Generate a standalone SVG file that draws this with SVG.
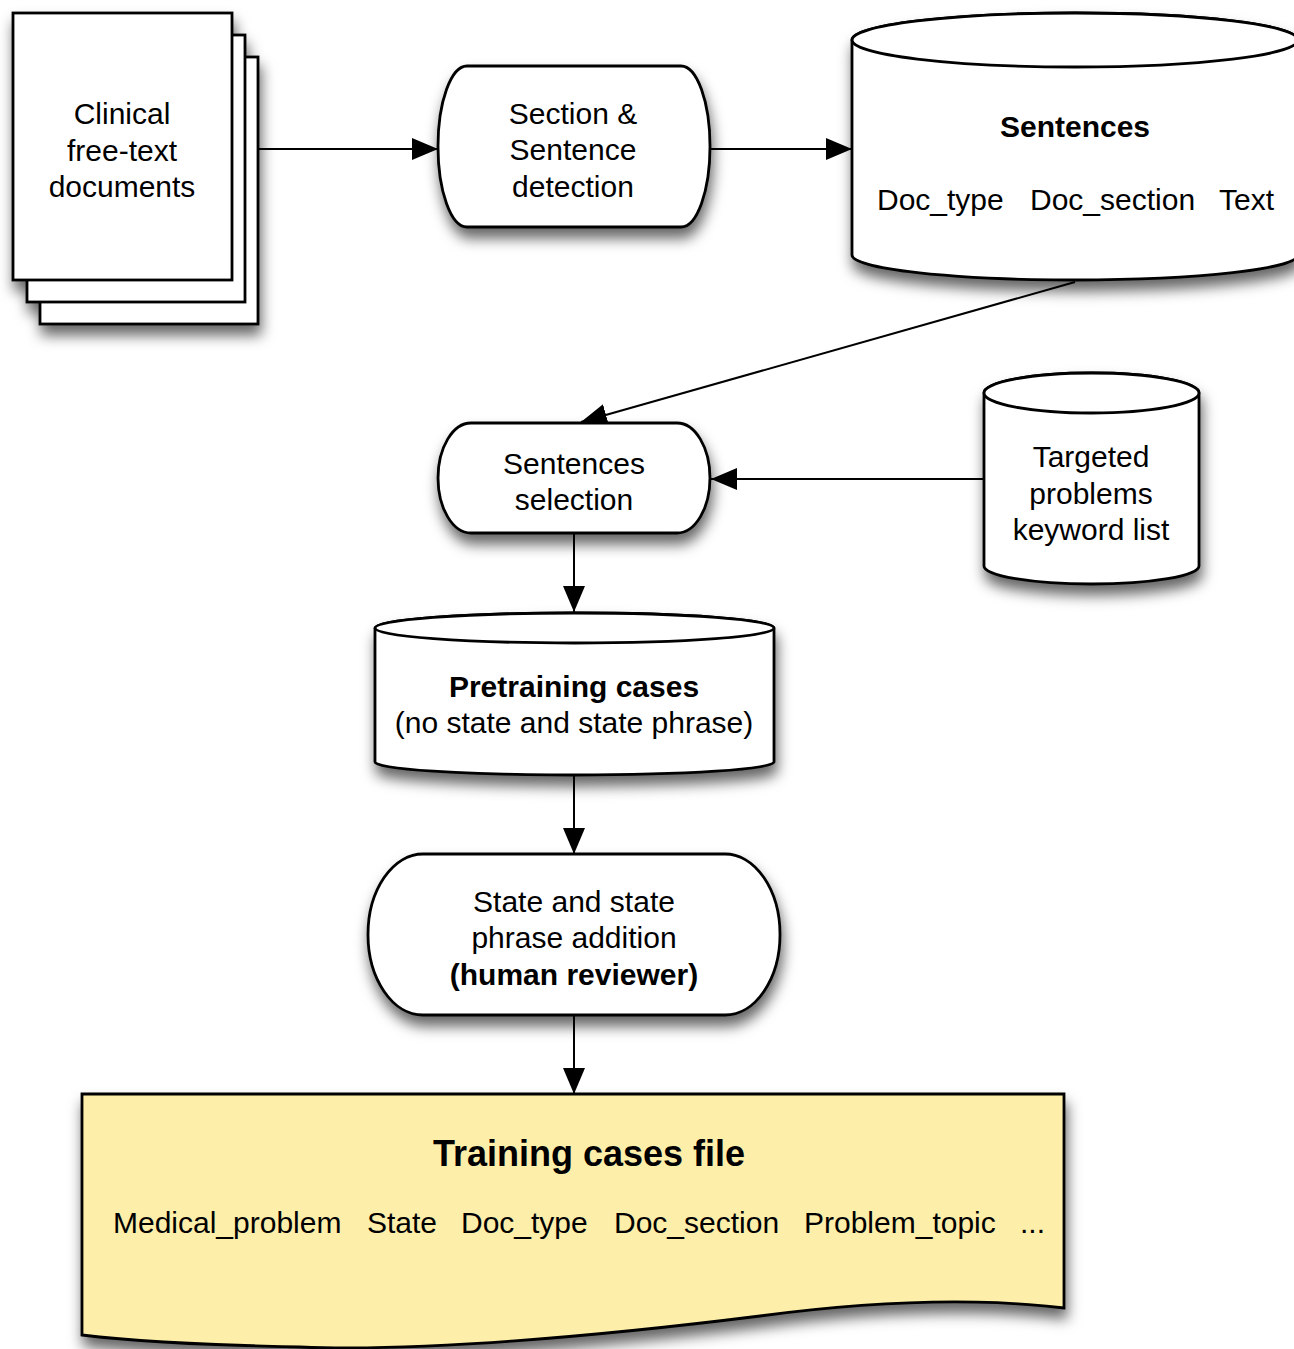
<svg xmlns="http://www.w3.org/2000/svg" width="1294" height="1349" viewBox="0 0 1294 1349">
<defs>
<filter id="sh" x="-10%" y="-10%" width="125%" height="140%">
<feDropShadow dx="2" dy="10" stdDeviation="7" flood-color="#000" flood-opacity="0.6"/>
</filter>
<marker id="ah" markerUnits="userSpaceOnUse" markerWidth="28" markerHeight="24" refX="26" refY="11" orient="auto">
<path d="M0,0 L26,11 L0,22 Z" fill="#000"/>
</marker>
</defs>
<style>
.shape{fill:#fff;stroke:#000;stroke-width:2.8}
.t{font-family:"Liberation Sans",Arial,Helvetica,sans-serif;font-size:30px;fill:#000}
.c{text-anchor:middle}
.b{font-weight:bold}
.edge{stroke:#000;stroke-width:2;fill:none;marker-end:url(#ah)}
</style>
<rect width="1294" height="1349" fill="#fff"/>

<g id="connectors">
<line class="edge" x1="258" y1="149" x2="438" y2="149"/>
<line class="edge" x1="710" y1="149" x2="852" y2="149"/>
<line class="edge" x1="1075" y1="282" x2="581" y2="422"/>
<line class="edge" x1="984" y1="479" x2="711" y2="479"/>
<line class="edge" x1="574" y1="533" x2="574" y2="612"/>
<line class="edge" x1="574" y1="776" x2="574" y2="854"/>
<line class="edge" x1="574" y1="1016" x2="574" y2="1094"/>
</g>

<g id="clinical-docs">
<g filter="url(#sh)">
<rect class="shape" x="40" y="57" width="218" height="267"/>
<rect class="shape" x="27" y="35" width="218" height="267"/>
<rect class="shape" x="13" y="13" width="219" height="267"/>
</g>
<text class="t c" x="122" y="124">Clinical</text>
<text class="t c" x="122" y="161">free-text</text>
<text class="t c" x="122" y="197">documents</text>
</g>

<g id="section-detection">
<path class="shape" filter="url(#sh)" d="M467,66 H681 A29,80.5 0 0 1 681,227 H467 A29,80.5 0 0 1 467,66 Z"/>
<text class="t c" x="573" y="124">Section &amp;</text>
<text class="t c" x="573" y="160">Sentence</text>
<text class="t c" x="573" y="197">detection</text>
</g>

<g id="sentences-db">
<path class="shape" filter="url(#sh)" d="M852,40 V255 A223,25 0 0 0 1298,255 V40 A223,27 0 0 0 852,40 Z"/>
<ellipse class="shape" cx="1075" cy="40" rx="223" ry="27"/>
<text class="t c b" x="1075" y="137">Sentences</text>
<text class="t" x="877" y="210">Doc_type</text>
<text class="t" x="1030" y="210">Doc_section</text>
<text class="t" x="1219" y="210">Text</text>
</g>

<g id="sentences-selection">
<path class="shape" filter="url(#sh)" d="M471,423 H677 A33,55 0 0 1 677,533 H471 A33,55 0 0 1 471,423 Z"/>
<text class="t c" x="574" y="474">Sentences</text>
<text class="t c" x="574" y="510">selection</text>
</g>

<g id="targeted-keywords">
<path class="shape" filter="url(#sh)" d="M984,393 V566 A107.5,18 0 0 0 1199,566 V393 A107.5,20 0 0 0 984,393 Z"/>
<ellipse class="shape" cx="1091.5" cy="393" rx="107.5" ry="20"/>
<text class="t c" x="1091" y="467">Targeted</text>
<text class="t c" x="1091" y="504">problems</text>
<text class="t c" x="1091" y="540">keyword list</text>
</g>

<g id="pretraining-db">
<path class="shape" filter="url(#sh)" d="M375,628 V762 A199.5,13 0 0 0 774,762 V628 A199.5,15 0 0 0 375,628 Z"/>
<ellipse class="shape" cx="574.5" cy="628" rx="199.5" ry="15"/>
<text class="t c b" x="574" y="697">Pretraining cases</text>
<text class="t c" x="574" y="733">(no state and state phrase)</text>
</g>

<g id="state-addition">
<path class="shape" filter="url(#sh)" d="M423,854 H725 A55,80.5 0 0 1 725,1015 H423 A55,80.5 0 0 1 423,854 Z"/>
<text class="t c" x="574" y="912">State and state</text>
<text class="t c" x="574" y="948">phrase addition</text>
<text class="t c b" x="574" y="985">(human reviewer)</text>
</g>

<g id="training-file">
<path filter="url(#sh)" fill="#fdeeaa" stroke="#000" stroke-width="2.8" d="M82,1094 H1064 V1308 C980,1298 880,1300 760,1316 C600,1336 420,1352 300,1347 C200,1345 130,1341 82,1335 Z"/>
<text class="t c b" x="589" y="1166" style="font-size:36px">Training cases file</text>
<text class="t" x="113" y="1233">Medical_problem</text>
<text class="t" x="367" y="1233">State</text>
<text class="t" x="461" y="1233">Doc_type</text>
<text class="t" x="614" y="1233">Doc_section</text>
<text class="t" x="804" y="1233">Problem_topic</text>
<text class="t" x="1020" y="1233">...</text>
</g>
</svg>
